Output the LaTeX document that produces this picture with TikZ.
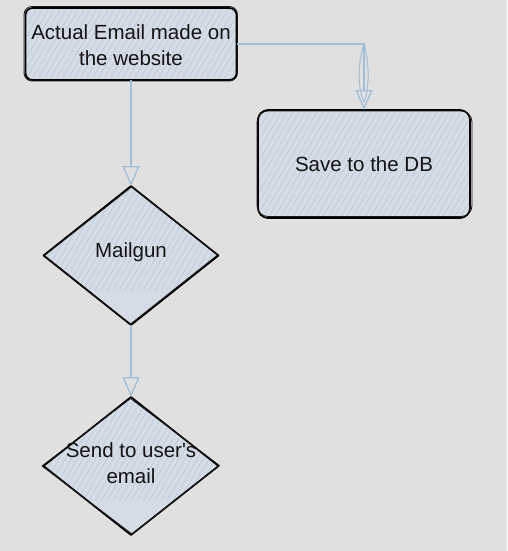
\documentclass[tikz,border=0pt]{standalone}
\usepackage{fontspec}
\setmainfont{Liberation Sans}[Ligatures=TeXOff]
\usetikzlibrary{arrows.meta,shapes.geometric}
\definecolor{bgc}{HTML}{E0E0E0}
\definecolor{fillc}{HTML}{D5DCE5}
\definecolor{hatchc}{HTML}{B9C9D9}
\definecolor{arrc}{HTML}{A2BED6}
\definecolor{txtc}{HTML}{141414}
\tikzset{
  shapefill/.style={fill=fillc, draw=none, inner sep=0pt, outer sep=0pt},
  outl/.style={draw=black, line width=1.7pt, line join=round},
  outl2/.style={draw=black!90, line width=0.8pt, line join=round},
  hatchline/.style={draw=hatchc, line width=0.6pt},
  lbl/.style={font=\fontsize{20.5}{25.5}\selectfont, align=center, text=txtc, inner sep=0pt},
  conn/.style={draw=arrc, line width=1.3pt, -{Triangle[open,length=20pt,width=17pt]}},
  sketchline/.style={draw=arrc, line width=1pt}
}
\begin{document}
\begin{tikzpicture}[x=1pt,y=-1pt]
\fill[bgc] (0,0) rectangle (507,551);
\useasboundingbox (0,0) rectangle (507,551);

% --- Box 1
\node[shapefill, rounded corners=7pt, minimum width=211pt, minimum height=72pt] (b1) at (131,44) {};
\begin{scope}
  \clip[rounded corners=7pt] (b1.south west) rectangle (b1.north east);
  \foreach \i in {-60,-54,...,220} \draw[hatchline] ([xshift=\i pt]b1.south west) -- ++(150pt,260pt);
\end{scope}
\draw[outl, rounded corners=7pt] (b1.south west) rectangle (b1.north east);
\draw[outl2, rounded corners=8pt] ([xshift=-1.5pt,yshift=-1pt]b1.south west) rectangle ([xshift=1pt,yshift=1.5pt]b1.north east);
\node[lbl] (t1) at (131,45) {Actual Email made on\\the website};

% --- Box 2
\node[shapefill, rounded corners=10pt, minimum width=212pt, minimum height=108pt] (b2) at (364,164) {};
\begin{scope}
  \clip[rounded corners=10pt] (b2.south west) rectangle (b2.north east);
  \foreach \i in {-80,-74,...,220} \draw[hatchline] ([xshift=\i pt]b2.south west) -- ++(150pt,260pt);
\end{scope}
\draw[outl, rounded corners=10pt] (b2.south west) rectangle (b2.north east);
\draw[outl2, rounded corners=11pt] ([xshift=-1pt,yshift=1.5pt]b2.south west) rectangle ([xshift=2pt,yshift=-1pt]b2.north east);
\node[lbl] (t2) at (364,164) {Save to the DB};

% --- Diamond 1
\node[shapefill, diamond, minimum width=175pt, minimum height=139pt] (d1) at (131,255.5) {};
\begin{scope}
  \clip (d1.north) -- (d1.east) -- (d1.south) -- (d1.west) -- cycle;
  \foreach \i in {-100,-94,...,190} \draw[hatchline] ([xshift=\i pt]d1.south west) -- ++(150pt,260pt);
\end{scope}
\draw[outl] (d1.north) -- (d1.east) -- (d1.south) -- (d1.west) -- cycle;
\draw[outl2] ([xshift=0.5pt,yshift=-1pt]d1.north) -- ([xshift=-1pt,yshift=0.5pt]d1.east) -- ([xshift=-0.5pt,yshift=1pt]d1.south) -- ([xshift=1pt]d1.west) -- cycle;
\node[lbl] (t3) at (131,252) {Mailgun};

% --- Diamond 2
\node[shapefill, diamond, minimum width=175pt, minimum height=138pt] (d2) at (131,466) {};
\begin{scope}
  \clip (d2.north) -- (d2.east) -- (d2.south) -- (d2.west) -- cycle;
  \foreach \i in {-100,-94,...,190} \draw[hatchline] ([xshift=\i pt]d2.south west) -- ++(150pt,260pt);
\end{scope}
\draw[outl] (d2.north) -- (d2.east) -- (d2.south) -- (d2.west) -- cycle;
\draw[outl2] ([xshift=-0.5pt,yshift=-1.5pt]d2.north) -- ([xshift=-1.5pt]d2.west) -- ([xshift=1pt,yshift=1pt]d2.south) -- ([xshift=1pt,yshift=0.5pt]d2.east) -- cycle;
\node[lbl] (t4) at (131,463) {Send to user's\\email};

% --- Connectors
\draw[conn] (b1.south) -- (d1.north);
\draw[conn] (b1.east) -| (b2.north);
\coordinate (lensTop) at (b1.east -| b2.north);
\coordinate (lensBot) at ([yshift=8pt]b2.north);
\draw[sketchline] (lensTop) .. controls (357,65) and (358,90) .. (lensBot);
\draw[sketchline] (lensTop) .. controls (370,65) and (369,90) .. (lensBot);
\draw[conn] (d1.south) -- (d2.north);
\end{tikzpicture}
\end{document}
